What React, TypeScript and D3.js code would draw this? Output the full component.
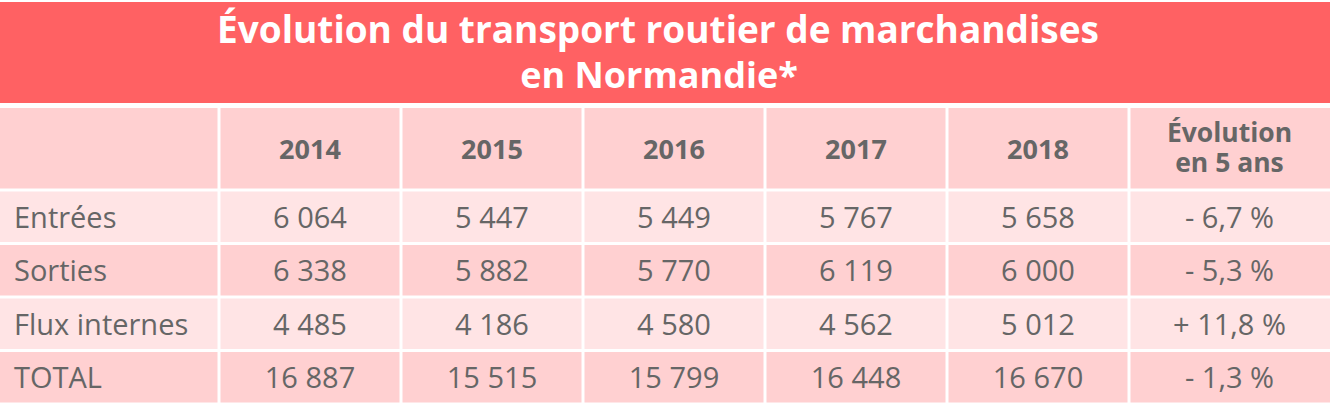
import React from "react";
import * as d3 from "d3";

const title1 = "Évolution du transport routier de marchandises";
const title2 = "en Normandie*";
const years = ["2014", "2015", "2016", "2017", "2018"];
const evolHeader = ["Évolution", "en 5 ans"];
const rowLabels = ["Entrées", "Sorties", "Flux internes", "TOTAL"];
const entrees = [6064, 5447, 5449, 5767, 5658];
const sorties = [6338, 5882, 5770, 6119, 6000];
const fluxInternes = [4485, 4186, 4580, 4562, 5012];
const total = [16887, 15515, 15799, 16448, 16670];
const evolutions = ["- 6,7 %", "- 5,3 %", "+ 11,8 %", "- 1,3 %"];

const W = 1334;
const H = 404;
const FONT = "'Open Sans', sans-serif";
const TEXT = "#666666";

function fmt(n: number): string {
  const s = String(n);
  return s.length > 3 ? s.slice(0, s.length - 3) + " " + s.slice(s.length - 3) : s;
}

export default function App() {
  const series = [entrees, sorties, fluxInternes, total];
  const x = d3.scaleBand<string>().domain(years).range([219, 1129]).padding(0);
  const tableRight = 1330;
  const y = d3.scaleBand<string>().domain(rowLabels).range([190, 404]).padding(0);
  const headerTop = 108;
  const headerBottom = 190;
  const gap = 3;
  const rowFill = (i: number) => (i % 2 === 0 ? "#FFE4E5" : "#FFD0D1");
  const evolX = (1129 + tableRight) / 2;

  return (
    <svg width={W} height={H} style={{ position: "absolute", left: 0, top: 0, background: "#fff" }}>
      <rect x={0} y={2} width={tableRight} height={101} fill="#FF6163" />
      <text x={658} y={43} textAnchor="middle" fill="#fff" fontFamily={FONT} fontWeight={700} fontSize={37}>
        {title1}
      </text>
      <text x={659} y={88} textAnchor="middle" fill="#fff" fontFamily={FONT} fontWeight={700} fontSize={36}>
        {title2}
      </text>

      {/* header row */}
      <rect x={0} y={headerTop} width={219 - gap / 2} height={headerBottom - headerTop - gap / 2} fill="#FFD0D1" />
      {years.map((yr) => (
        <g key={yr}>
          <rect
            x={(x(yr) as number) + gap / 2}
            y={headerTop}
            width={x.bandwidth() - gap}
            height={headerBottom - headerTop - gap / 2}
            fill="#FFD0D1"
          />
          <text
            x={(x(yr) as number) + x.bandwidth() / 2}
            y={159}
            textAnchor="middle"
            fill={TEXT}
            fontFamily={FONT}
            fontWeight={700}
            fontSize={27}
          >
            {yr}
          </text>
        </g>
      ))}
      <rect x={1129 + gap / 2} y={headerTop} width={tableRight - 1129 - gap / 2} height={headerBottom - headerTop - gap / 2} fill="#FFD0D1" />
      <text x={evolX} y={141.5} textAnchor="middle" fill={TEXT} fontFamily={FONT} fontWeight={700} fontSize={26.5}>
        {evolHeader[0]}
      </text>
      <text x={evolX} y={172} textAnchor="middle" fill={TEXT} fontFamily={FONT} fontWeight={700} fontSize={26.5}>
        {evolHeader[1]}
      </text>

      {rowLabels.map((lab, i) => {
        const y0 = (y(lab) as number) + gap / 2;
        const h = y.bandwidth() - gap;
        const cy = (y(lab) as number) + y.bandwidth() / 2 + 11;
        return (
          <g key={lab}>
            <rect x={0} y={y0} width={219 - gap / 2} height={h} fill={rowFill(i)} />
            <text x={14} y={cy} fill={TEXT} fontFamily={FONT} fontSize={29}>
              {lab}
            </text>
            {years.map((yr, j) => (
              <g key={yr}>
                <rect x={(x(yr) as number) + gap / 2} y={y0} width={x.bandwidth() - gap} height={h} fill={rowFill(i)} />
                <text
                  x={(x(yr) as number) + x.bandwidth() / 2}
                  y={cy}
                  textAnchor="middle"
                  fill={TEXT}
                  fontFamily={FONT}
                  fontSize={29}
                >
                  {fmt(series[i][j])}
                </text>
              </g>
            ))}
            <rect x={1129 + gap / 2} y={y0} width={tableRight - 1129 - gap / 2} height={h} fill={rowFill(i)} />
            <text x={evolX} y={cy} textAnchor="middle" fill={TEXT} fontFamily={FONT} fontSize={29}>
              {evolutions[i]}
            </text>
          </g>
        );
      })}
    </svg>
  );
}
